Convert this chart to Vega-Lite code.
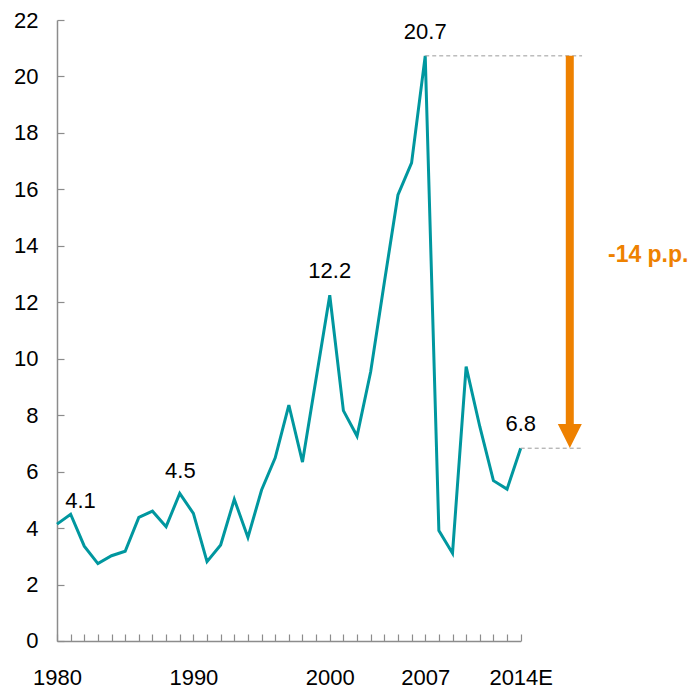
{
  "$schema": "https://vega.github.io/schema/vega-lite/v6.json",
  "width": 463.7,
  "height": 621,
  "autosize": {"type": "none"},
  "padding": {"left": 57, "top": 20, "right": 174, "bottom": 48},
  "background": "white",
  "config": {"view": {"stroke": null}, "font": "Liberation Sans"},
  "datasets": {
    "series": [
      {"year": 1980, "value": 4.14},
      {"year": 1981, "value": 4.49},
      {"year": 1982, "value": 3.36},
      {"year": 1983, "value": 2.74},
      {"year": 1984, "value": 3.02},
      {"year": 1985, "value": 3.18},
      {"year": 1986, "value": 4.38},
      {"year": 1987, "value": 4.6},
      {"year": 1988, "value": 4.05},
      {"year": 1989, "value": 5.23},
      {"year": 1990, "value": 4.52},
      {"year": 1991, "value": 2.81},
      {"year": 1992, "value": 3.4},
      {"year": 1993, "value": 5.02},
      {"year": 1994, "value": 3.67},
      {"year": 1995, "value": 5.35},
      {"year": 1996, "value": 6.49},
      {"year": 1997, "value": 8.36},
      {"year": 1998, "value": 6.34},
      {"year": 1999, "value": 9.3},
      {"year": 2000, "value": 12.25},
      {"year": 2001, "value": 8.16},
      {"year": 2002, "value": 7.26},
      {"year": 2003, "value": 9.54},
      {"year": 2004, "value": 12.7},
      {"year": 2005, "value": 15.8},
      {"year": 2006, "value": 16.94},
      {"year": 2007, "value": 20.73},
      {"year": 2008, "value": 3.91},
      {"year": 2009, "value": 3.11},
      {"year": 2010, "value": 9.72},
      {"year": 2011, "value": 7.6},
      {"year": 2012, "value": 5.68},
      {"year": 2013, "value": 5.38},
      {"year": 2014, "value": 6.83}
    ],
    "labels": [
      {"year": 1980, "value": 4.14, "label": "4.1"},
      {"year": 1990, "value": 4.52, "label": "4.5"},
      {"year": 2000, "value": 12.25, "label": "12.2"},
      {"year": 2007, "value": 20.73, "label": "20.7"},
      {"year": 2014, "value": 6.83, "label": "6.8"}
    ],
    "change": [
      {"from": 20.73, "to": 6.83, "label": "-14 p.p."}
    ]
  },
  "layer": [
    {
      "data": {"name": "series"},
      "mark": {"type": "line", "color": "#00979F", "strokeWidth": 3},
      "encoding": {
        "x": {
          "field": "year", "type": "quantitative",
          "scale": {"domain": [1980, 2014], "nice": false, "zero": false},
          "axis": {
            "title": null, "grid": false,
            "values": [1980,1981,1982,1983,1984,1985,1986,1987,1988,1989,1990,1991,1992,1993,1994,1995,1996,1997,1998,1999,2000,2001,2002,2003,2004,2005,2006,2007,2008,2009,2010,2011,2012,2013,2014],
            "tickCount": 40,
            "format": "d",
            "labelExpr": "datum.value == 2014 ? '2014E' : (datum.value == 1980 || datum.value == 1990 || datum.value == 2000 || datum.value == 2007) ? datum.label : ''",
            "labelOverlap": false, "labelFlush": false, "labelBound": false,
            "tickSize": -7, "tickColor": "#8c8c8c", "tickWidth": 1.2,
            "domainColor": "#8c8c8c", "domainWidth": 1.5,
            "labelFontSize": 22, "labelColor": "#000000", "labelPadding": 34, "labelFont": "Liberation Sans"
          }
        },
        "y": {
          "field": "value", "type": "quantitative",
          "scale": {"domain": [0, 22], "nice": false},
          "axis": {
            "title": null, "grid": false,
            "values": [0,2,4,6,8,10,12,14,16,18,20,22],
            "tickCount": 12,
            "tickSize": -7, "tickColor": "#8c8c8c", "tickWidth": 1.2,
            "domainColor": "#8c8c8c", "domainWidth": 1.5,
            "labelFontSize": 22, "labelColor": "#000000", "labelPadding": 26, "labelFont": "Liberation Sans"
          }
        }
      }
    },
    {
      "data": {"name": "labels"},
      "transform": [{"filter": "datum.year == 2007 || datum.year == 2014"}],
      "mark": {"type": "rule", "color": "#9a9a9a", "strokeWidth": 1, "strokeDash": [4, 3], "clip": false},
      "encoding": {
        "x": {"field": "year", "type": "quantitative"},
        "x2": {"datum": 2018.5},
        "y": {"field": "value", "type": "quantitative"}
      }
    },
    {
      "data": {"name": "change"},
      "mark": {"type": "rule", "color": "#EE8100", "strokeWidth": 8, "clip": false},
      "encoding": {
        "x": {"datum": 2017.6, "type": "quantitative"},
        "y": {"field": "from", "type": "quantitative"},
        "y2": {"datum": 7.5}
      }
    },
    {
      "data": {"name": "change"},
      "mark": {"type": "point", "shape": "M-1,-1L1,-1L0,1Z", "filled": true, "color": "#EE8100", "opacity": 1, "size": 576, "clip": false},
      "encoding": {
        "x": {"datum": 2017.6, "type": "quantitative"},
        "y": {"datum": 7.26, "type": "quantitative"}
      }
    },
    {
      "data": {"name": "change"},
      "mark": {"type": "text", "color": "#EE8100", "fontSize": 23, "fontWeight": "bold", "align": "left", "baseline": "middle", "font": "Liberation Sans", "clip": false},
      "encoding": {
        "x": {"datum": 2020.4, "type": "quantitative"},
        "y": {"datum": 13.67, "type": "quantitative"},
        "text": {"field": "label"}
      }
    },
    {
      "data": {"name": "labels"},
      "transform": [{"filter": "datum.year >= 2000"}],
      "mark": {"type": "text", "color": "#000000", "fontSize": 22, "align": "center", "baseline": "alphabetic", "dy": -17, "font": "Liberation Sans"},
      "encoding": {
        "x": {"field": "year", "type": "quantitative"},
        "y": {"field": "value", "type": "quantitative"},
        "text": {"field": "label"}
      }
    },
    {
      "data": {"name": "labels"},
      "transform": [{"filter": "datum.year == 1980"}],
      "mark": {"type": "text", "color": "#000000", "fontSize": 22, "align": "center", "baseline": "alphabetic", "dx": 23.5, "dy": -16, "font": "Liberation Sans"},
      "encoding": {
        "x": {"field": "year", "type": "quantitative"},
        "y": {"field": "value", "type": "quantitative"},
        "text": {"field": "label"}
      }
    },
    {
      "data": {"name": "labels"},
      "transform": [{"filter": "datum.year == 1990"}],
      "mark": {"type": "text", "color": "#000000", "fontSize": 22, "align": "center", "baseline": "alphabetic", "dx": -13, "dy": -35, "font": "Liberation Sans"},
      "encoding": {
        "x": {"field": "year", "type": "quantitative"},
        "y": {"field": "value", "type": "quantitative"},
        "text": {"field": "label"}
      }
    }
  ]
}
